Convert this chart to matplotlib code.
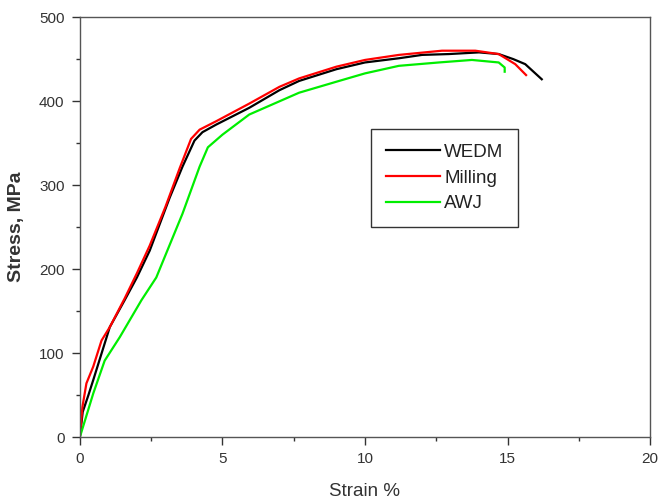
import matplotlib
matplotlib.use("Agg")
import matplotlib.pyplot as plt
from matplotlib.ticker import MultipleLocator

plt.rcParams['font.family'] = ['Liberation Sans', 'DejaVu Sans']

wedm_x = [0, 0.05, 0.1, 0.3, 0.47, 0.82, 1.05, 1.57, 2.0, 2.45, 3.15, 3.6, 4.02, 4.3, 4.78, 5.94, 7.0, 7.69, 9.0, 10.0, 11.19, 12.0, 12.94, 14.0, 14.69, 15.2, 15.62, 16.2]
wedm_y = [0, 15, 30, 50, 68, 106, 131, 163, 190, 222, 285, 322, 353, 363, 372, 392, 413, 424, 438, 446, 451, 455, 456, 458, 456, 450, 444, 426]

mill_x = [0, 0.03, 0.09, 0.23, 0.47, 0.76, 1.05, 1.57, 2.0, 2.45, 3.0, 3.5, 3.9, 4.2, 4.78, 5.94, 7.0, 7.69, 9.0, 10.0, 11.19, 12.7, 13.87, 14.69, 15.27, 15.65]
mill_y = [0, 12, 36, 64, 84, 115, 131, 165, 195, 228, 274, 320, 355, 366, 376, 397, 417, 427, 441, 449, 455, 460, 460, 456, 444, 431]

awj_x = [0, 0.47, 0.87, 1.4, 2.16, 2.68, 3.6, 4.2, 4.49, 5.0, 5.94, 7.69, 9.09, 10.0, 11.19, 12.59, 13.75, 14.69, 14.9, 14.9]
awj_y = [0, 52, 91, 119, 163, 190, 266, 322, 345, 360, 384, 410, 424, 433, 442, 446, 449, 446, 440, 435]

labels = ["WEDM", "Milling", "AWJ"]
colors = ["#000000", "#ff0000", "#00ee00"]

fig = plt.figure(figsize=(6.6, 5.03), dpi=100)
ax = fig.add_axes([0.121, 0.131, 0.864, 0.835])

ax.plot(wedm_x, wedm_y, color=colors[0], lw=1.6, label=labels[0])
ax.plot(mill_x, mill_y, color=colors[1], lw=1.6, label=labels[1])
ax.plot(awj_x, awj_y, color=colors[2], lw=1.6, label=labels[2])

ax.set_xlim(0, 20)
ax.set_ylim(0, 500)
ax.xaxis.set_major_locator(MultipleLocator(5))
ax.xaxis.set_minor_locator(MultipleLocator(2.5))
ax.yaxis.set_major_locator(MultipleLocator(100))
ax.yaxis.set_minor_locator(MultipleLocator(50))

for s in ax.spines.values():
    s.set_color("#555555")
    s.set_linewidth(1.0)

ax.tick_params(which='major', direction='out', length=6, width=1, color='#333333',
               labelsize=11, labelcolor='#333333', pad=5)
ax.tick_params(which='minor', direction='out', length=3, width=1, color='#333333')
ax.tick_params(top=False, right=False, which='both')

ax.set_xlabel("Strain %", fontsize=13.5, color='#333333', labelpad=12)
ax.set_ylabel("Stress, MPa", fontsize=14, fontweight='bold', color='#333333', labelpad=10)

leg = ax.legend(loc='upper left', bbox_to_anchor=(0.511, 0.733), fontsize=13.5,
                frameon=True, fancybox=False, handlelength=2.9, handletextpad=0.2,
                borderpad=0.78, labelspacing=0.45, borderaxespad=0)
leg.get_frame().set_edgecolor('#000000')
leg.get_frame().set_linewidth(1.0)
for t in leg.get_texts():
    t.set_color('#222222')

fig.savefig("out.png", dpi=100)
